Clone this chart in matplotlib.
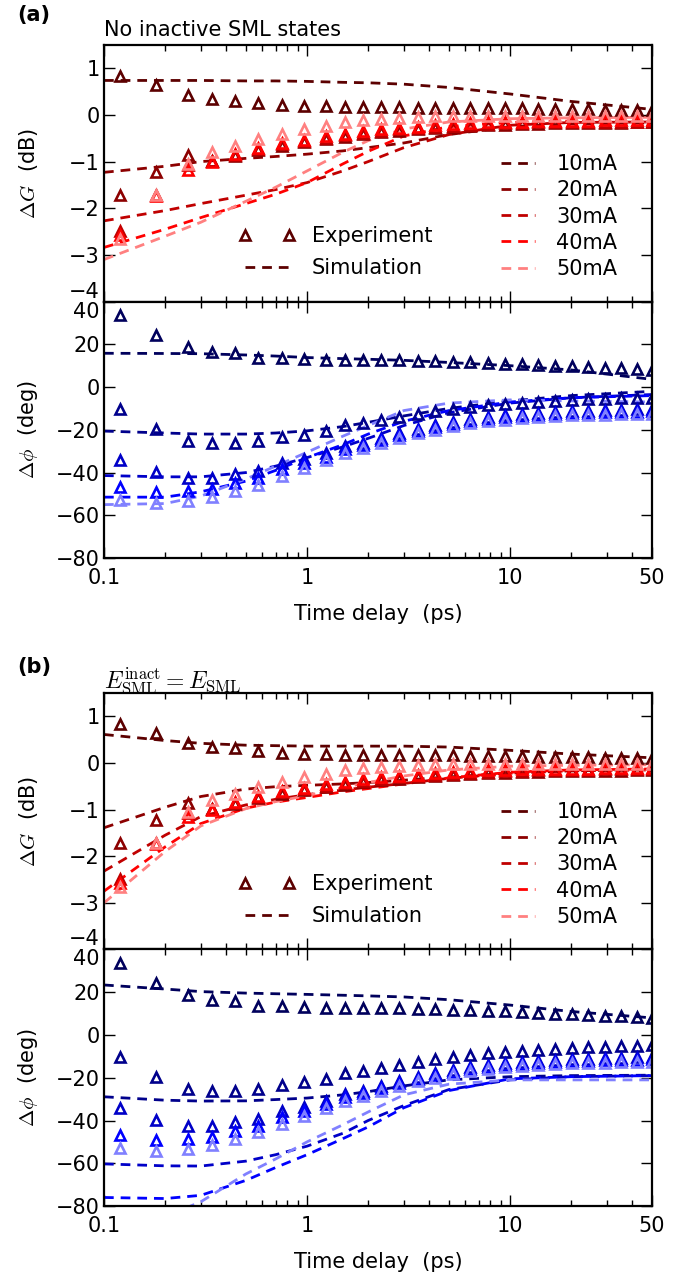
import numpy as np
import matplotlib
matplotlib.use("Agg")
import matplotlib.pyplot as plt
from matplotlib.lines import Line2D
from matplotlib.ticker import LogLocator, NullFormatter

plt.rcParams['font.family'] = ['DejaVu Sans']
plt.rcParams['mathtext.fontset'] = 'cm'
plt.rcParams['lines.scale_dashes'] = False

# ==============================================================================
# DATA
# ==============================================================================
currents = ['10mA', '20mA', '30mA', '40mA', '50mA']
red_colors = ['#5c0000', '#8c0000', '#c00000', '#ff0000', '#ff8080']
blue_colors = ['#00005c', '#00008c', '#0000c8', '#0000ff', '#8080ff']

# experimental time delays (ps), same for both panels
t_exp = [0.12, 0.18, 0.26, 0.34, 0.44, 0.575, 0.75, 0.97, 1.24, 1.54, 1.89, 2.32, 2.84,
         3.52, 4.29, 5.22, 6.35, 7.77, 9.45, 11.4, 13.8, 16.7, 20.1, 24.3, 29.4, 35.2, 42.2, 50.0]

gain_exp_10 = [0.84, 0.65, 0.43, 0.35, 0.31, 0.25, 0.22, 0.20, 0.19, 0.18, 0.18, 0.17, 0.17, 0.16,
               0.16, 0.16, 0.15, 0.15, 0.14, 0.14, 0.13, 0.13, 0.12, 0.12, 0.11, 0.11, 0.10, 0.10]
gain_exp_20 = [-1.72, -1.23, -0.86, -0.98, -0.89, -0.76, -0.66, -0.59, -0.52, -0.47, -0.41, -0.37, -0.34, -0.31,
               -0.28, -0.26, -0.24, -0.22, -0.21, -0.20, -0.19, -0.18, -0.18, -0.17, -0.17, -0.17, -0.16, -0.16]
gain_exp_30 = [-2.48, -1.72, -1.08, -0.99, -0.86, -0.73, -0.63, -0.56, -0.49, -0.44, -0.38, -0.34, -0.31, -0.28,
               -0.25, -0.23, -0.21, -0.19, -0.18, -0.17, -0.16, -0.15, -0.15, -0.15, -0.14, -0.14, -0.14, -0.14]
gain_exp_40 = [-2.57, -1.73, -1.17, -1.00, -0.84, -0.70, -0.60, -0.53, -0.46, -0.41, -0.35, -0.31, -0.28, -0.25,
               -0.22, -0.20, -0.18, -0.16, -0.15, -0.14, -0.13, -0.12, -0.12, -0.12, -0.11, -0.11, -0.11, -0.11]
gain_exp_50 = [-2.66, -1.71, -1.05, -0.80, -0.66, -0.52, -0.41, -0.31, -0.24, -0.16, -0.11, -0.08, -0.06, -0.04,
               -0.03, -0.02, -0.02, -0.02, -0.02, -0.02, -0.02, -0.02, -0.02, -0.02, -0.02, -0.02, -0.02, -0.02]

phase_exp_10 = [33.7, 24.2, 18.7, 16.6, 15.8, 13.8, 13.4, 13.0, 12.6, 12.6, 12.6, 12.8, 12.5, 12.2,
                12.0, 11.8, 11.6, 11.4, 11.0, 10.6, 10.3, 10.0, 9.8, 9.4, 9.0, 8.7, 8.3, 8.1]
phase_exp_20 = [-10.1, -19.8, -25.3, -26.4, -26.1, -25.3, -23.4, -22.2, -20.6, -17.9, -17.0, -15.5, -13.9, -12.5,
                -11.2, -10.2, -9.3, -8.6, -8.1, -7.5, -7.0, -6.5, -6.0, -5.8, -5.5, -5.3, -5.0, -4.9]
phase_exp_30 = [-34.3, -39.8, -42.4, -42.4, -40.6, -39.3, -35.4, -33.5, -30.7, -27.6, -26.1, -23.7, -21.4, -19.5,
                -17.8, -16.3, -15.0, -14.0, -13.2, -12.6, -12.0, -11.6, -11.3, -11.0, -10.8, -10.6, -10.5, -10.4]
phase_exp_40 = [-46.7, -49.2, -48.7, -47.9, -45.1, -42.5, -38.5, -35.5, -32.5, -29.2, -27.3, -25.0, -22.6, -20.5,
                -18.9, -17.3, -16.0, -15.0, -14.2, -13.6, -13.0, -12.6, -12.3, -12.0, -11.8, -11.6, -11.5, -11.4]
phase_exp_50 = [-53.0, -54.2, -53.4, -51.3, -48.7, -45.6, -41.7, -37.8, -34.2, -30.7, -28.4, -26.1, -23.7, -21.6,
                -20.0, -18.4, -17.0, -16.0, -15.2, -14.6, -14.0, -13.6, -13.3, -13.1, -12.9, -12.8, -12.7, -12.6]

# simulation time grid (ps)
t_sim = [0.1, 0.2, 0.3, 0.5, 0.7, 1, 1.5, 2, 3, 5, 10, 20, 50]

# (a) no inactive SML states
gain_sim_a_10 = [0.74, 0.74, 0.74, 0.73, 0.73, 0.72, 0.70, 0.69, 0.66, 0.59, 0.45, 0.29, 0.12]
gain_sim_a_20 = [-1.23, -1.10, -1.00, -0.93, -0.89, -0.84, -0.77, -0.70, -0.60, -0.42, -0.25, -0.19, -0.17]
gain_sim_a_30 = [-2.27, -2.05, -1.90, -1.72, -1.60, -1.45, -1.20, -1.00, -0.70, -0.42, -0.22, -0.16, -0.15]
gain_sim_a_40 = [-2.84, -2.45, -2.20, -1.90, -1.70, -1.45, -1.05, -0.78, -0.45, -0.25, -0.16, -0.13, -0.12]
gain_sim_a_50 = [-3.10, -2.60, -2.30, -1.85, -1.55, -1.20, -0.80, -0.55, -0.30, -0.15, -0.08, -0.06, -0.05]

phase_sim_a_10 = [15.8, 15.7, 15.6, 15.0, 14.5, 13.8, 13.3, 13.0, 12.5, 11.5, 10.0, 8.0, 3.6]
phase_sim_a_20 = [-20.6, -21.5, -22.0, -22.0, -21.5, -20.5, -18.5, -16.5, -13.5, -10.0, -6.5, -4.0, -2.0]
phase_sim_a_30 = [-41.4, -42.0, -42.0, -40.0, -37.0, -33.0, -28.0, -24.0, -18.0, -12.0, -7.5, -5.0, -3.5]
phase_sim_a_40 = [-51.5, -51.5, -49.0, -44.0, -39.0, -33.0, -27.0, -22.0, -16.0, -11.0, -7.0, -5.0, -4.0]
phase_sim_a_50 = [-55.0, -54.5, -51.0, -43.0, -37.0, -30.5, -23.0, -18.0, -11.0, -7.5, -6.0, -6.5, -7.0]

# (b) E_SML^inact = E_SML
gain_sim_b_10 = [0.61, 0.48, 0.42, 0.38, 0.37, 0.36, 0.36, 0.36, 0.36, 0.34, 0.27, 0.19, 0.11]
gain_sim_b_20 = [-1.39, -0.95, -0.72, -0.56, -0.51, -0.48, -0.45, -0.42, -0.37, -0.30, -0.22, -0.17, -0.14]
gain_sim_b_30 = [-2.32, -1.55, -1.15, -0.90, -0.78, -0.68, -0.58, -0.52, -0.44, -0.33, -0.22, -0.17, -0.15]
gain_sim_b_40 = [-2.75, -1.80, -1.30, -0.97, -0.84, -0.74, -0.62, -0.55, -0.45, -0.32, -0.20, -0.15, -0.13]
gain_sim_b_50 = [-3.00, -1.90, -1.35, -0.98, -0.83, -0.70, -0.53, -0.42, -0.28, -0.15, -0.07, -0.05, -0.04]

phase_sim_b_10 = [23.4, 21.5, 20.3, 19.6, 19.3, 19.0, 18.6, 18.3, 17.8, 16.5, 14.0, 11.0, 8.0]
phase_sim_b_20 = [-28.9, -30.5, -30.9, -30.8, -30.2, -29.5, -28.0, -26.5, -23.8, -21.0, -19.5, -19.0, -18.8]
phase_sim_b_30 = [-60.3, -61.2, -61.3, -59.0, -56.0, -52.0, -46.0, -40.0, -33.0, -25.5, -21.0, -19.5, -19.0]
phase_sim_b_40 = [-76.0, -76.5, -75.0, -68.0, -62.0, -56.0, -48.5, -43.0, -34.0, -26.0, -20.5, -19.5, -19.0]
phase_sim_b_50 = [-88.0, -85.0, -78.0, -65.0, -58.0, -50.0, -42.0, -36.0, -28.0, -23.0, -21.0, -21.0, -21.0]

gain_exp = [gain_exp_10, gain_exp_20, gain_exp_30, gain_exp_40, gain_exp_50]
phase_exp = [phase_exp_10, phase_exp_20, phase_exp_30, phase_exp_40, phase_exp_50]
gain_sim = {'a': [gain_sim_a_10, gain_sim_a_20, gain_sim_a_30, gain_sim_a_40, gain_sim_a_50],
            'b': [gain_sim_b_10, gain_sim_b_20, gain_sim_b_30, gain_sim_b_40, gain_sim_b_50]}
phase_sim = {'a': [phase_sim_a_10, phase_sim_a_20, phase_sim_a_30, phase_sim_a_40, phase_sim_a_50],
             'b': [phase_sim_b_10, phase_sim_b_20, phase_sim_b_30, phase_sim_b_40, phase_sim_b_50]}

x_ticks = [0.1, 1, 10, 50]
x_ticklabels = ['0.1', '1', '10', '50']
gain_ticks = [-4, -3, -2, -1, 0, 1]
phase_ticks = [-80, -60, -40, -20, 0, 20, 40]

# ==============================================================================
# FIGURE
# ==============================================================================
FS = 15
DASH = (7, 5)
LW = 2.0
MS, MEW = 7.5, 1.9
fig = plt.figure(figsize=(6.81, 12.75), dpi=100)

left, width, h = 0.1527, 0.8047, 0.2012
tops = {'a': 0.9647, 'b': 0.4565}


def style_axes(ax):
    ax.set_xscale('log')
    ax.set_xlim(0.1, 50)
    ax.set_xticks(x_ticks)
    ax.set_xticklabels(x_ticklabels)
    ax.xaxis.set_minor_locator(LogLocator(base=10, subs=np.arange(2, 10)))
    ax.xaxis.set_minor_formatter(NullFormatter())
    ax.tick_params(which='both', direction='in', top=True, right=True, labelsize=FS)
    ax.tick_params(which='major', length=8, width=1.0)
    ax.tick_params(which='minor', length=4, width=1.0)
    ax.tick_params(axis='y', pad=3)
    ax.tick_params(axis='x', pad=7)
    for sp in ax.spines.values():
        sp.set_linewidth(1.6)


for panel in ['a', 'b']:
    top = tops[panel]
    ax_g = fig.add_axes([left, top - h, width, h])
    ax_p = fig.add_axes([left, top - 2 * h, width, h])

    # -- Gain --
    for i in range(5):
        ax_g.plot(t_sim, gain_sim[panel][i], ls='--', dashes=DASH, lw=LW, color=red_colors[i])
    for i in range(5):
        ax_g.plot(t_exp, gain_exp[i], ls='none', marker='^', ms=MS, mew=MEW,
                  mfc='none', mec=red_colors[i])
    style_axes(ax_g)
    ax_g.set_ylim(-4, 1.5)
    ax_g.set_yticks(gain_ticks)
    ax_g.tick_params(axis='x', labelbottom=False)
    ax_g.set_ylabel(r'$\Delta G$  (dB)', fontsize=FS)
    ax_g.yaxis.set_label_coords(-0.117, 0.5)
    ax_g.get_yticklabels()[0].set_va('bottom')

    # -- Phase --
    for i in range(5):
        ax_p.plot(t_sim, phase_sim[panel][i], ls='--', dashes=DASH, lw=LW, color=blue_colors[i])
    for i in range(5):
        ax_p.plot(t_exp, phase_exp[i], ls='none', marker='^', ms=MS, mew=MEW,
                  mfc='none', mec=blue_colors[i])
    style_axes(ax_p)
    ax_p.set_ylim(-80, 40)
    ax_p.set_yticks(phase_ticks)
    ax_p.set_ylabel(r'$\Delta\phi$  (deg)', fontsize=FS)
    ax_p.yaxis.set_label_coords(-0.117, 0.5)
    ax_p.get_yticklabels()[-1].set_va('top')
    ax_p.set_xlabel('Time delay  (ps)', fontsize=FS, labelpad=12)

    # -- Legends --
    h_exp = Line2D([], [], ls='none', marker='^', ms=MS, mew=MEW, mfc='none', mec=red_colors[0])
    h_sim = Line2D([], [], ls='--', dashes=DASH, lw=LW, color=red_colors[0])
    leg1 = ax_g.legend([h_exp, h_sim], ['Experiment', 'Simulation'], numpoints=2,
                       loc='upper left', bbox_to_anchor=(0.246, 0.295), frameon=False,
                       fontsize=FS, handlelength=2.7, handletextpad=0.8, labelspacing=0.58,
                       borderpad=0, borderaxespad=0)
    ax_g.add_artist(leg1)
    curr_handles = [Line2D([], [], ls='--', dashes=DASH, lw=LW, color=c) for c in red_colors]
    ax_g.legend(curr_handles, currents, loc='upper left', bbox_to_anchor=(0.725, 0.575),
                frameon=False, fontsize=FS, handlelength=1.6, handletextpad=1.05,
                labelspacing=0.3, borderpad=0, borderaxespad=0)

fig.text(0.025, 0.988, '(a)', fontsize=FS, fontweight='bold', ha='left', va='center')
fig.text(left, 0.9718, 'No inactive SML states', fontsize=FS, ha='left', va='baseline')
fig.text(0.025, 0.4769, '(b)', fontsize=FS, fontweight='bold', ha='left', va='center')
fig.text(left, 0.4604, r'$E_{\mathrm{SML}}^{\mathrm{inact}}=E_{\mathrm{SML}}$', fontsize=17,
         ha='left', va='baseline')

fig.savefig('out.png', dpi=100)
